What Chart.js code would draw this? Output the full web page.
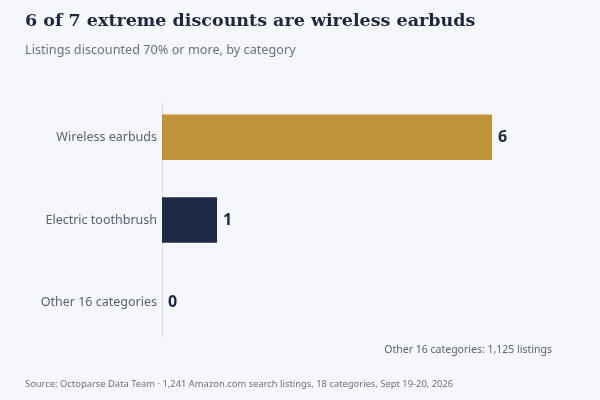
<!DOCTYPE html>
<html>
<head>
<meta charset="utf-8">
<script src="https://cdn.jsdelivr.net/npm/chart.js@4"></script>
<style>
  html, body { margin: 0; padding: 0; background: #f5f7fb; }
  #wrap { position: relative; width: 600px; height: 400px; overflow: hidden; }
  #chart { position: absolute; left: 0; top: 0; }
  .txt { position: absolute; white-space: nowrap; font-family: "Noto Sans", sans-serif; }
  #title { left: 25px; top: 10px; font: bold 17.5px "DejaVu Serif", serif; color: #1e2640; }
  #subtitle { left: 25px; top: 40px; font-size: 12.7px; color: #687083; }
  #note { right: 48px; top: 342px; font-size: 10.5px; color: #5c6270; }
  #source { left: 25px; top: 377px; font-size: 9.4px; color: #6b7180; }
</style>
</head>
<body>
<div id="wrap">
  <canvas id="chart" width="600" height="400"></canvas>
  <div class="txt" id="title">6 of 7 extreme discounts are wireless earbuds</div>
  <div class="txt" id="subtitle">Listings discounted 70% or more, by category</div>
  <div class="txt" id="note">Other 16 categories: 1,125 listings</div>
  <div class="txt" id="source">Source: Octoparse Data Team · 1,241 Amazon.com search listings, 18 categories, Sept 19-20, 2026</div>
</div>
<script>
var categories = ['Wireless earbuds', 'Electric toothbrush', 'Other 16 categories'];
var counts = [6, 1, 0];
var barColors = ['#c0933a', '#1e2946', '#1e2946'];

// thin baseline a little shorter than the plot area, like the original
var baseline = {
    id: 'baseline',
    beforeDatasetsDraw: function (chart) {
        var a = chart.chartArea, ctx = chart.ctx;
        ctx.save();
        ctx.strokeStyle = '#d8dce4';
        ctx.lineWidth = 1;
        ctx.beginPath();
        ctx.moveTo(a.left + 0.5, a.top + 7);
        ctx.lineTo(a.left + 0.5, a.bottom - 7);
        ctx.stroke();
        ctx.restore();
    }
};

// writes the count just past the end of each bar
var valueLabels = {
    id: 'valueLabels',
    afterDatasetsDraw: function (chart) {
        var ctx = chart.ctx;
        var meta = chart.getDatasetMeta(0);
        ctx.save();
        ctx.font = 'bold 16px "Noto Sans"';
        ctx.fillStyle = '#1e2640';
        ctx.textAlign = 'left';
        ctx.textBaseline = 'middle';
        meta.data.forEach(function (bar, i) {
            ctx.fillText(String(counts[i]), bar.x + 6, bar.y);
        });
        ctx.restore();
    }
};

new Chart('chart', {
    type: 'bar',
    data: {
        labels: categories,
        datasets: [{
            data: counts,
            backgroundColor: barColors,
            borderWidth: 0,
            categoryPercentage: 1,
            barPercentage: 0.55
        }]
    },
    options: {
        indexAxis: 'y',
        responsive: false,
        animation: false,
        layout: {
            padding: { left: 0, right: 108, top: 96, bottom: 56 }
        },
        plugins: {
            legend: { display: false },
            tooltip: { enabled: false }
        },
        scales: {
            x: {
                display: false,
                min: 0,
                max: 6
            },
            y: {
                grid: { display: false, drawTicks: false },
                border: { display: false },
                ticks: {
                    color: '#5b6172',
                    font: { family: 'Noto Sans', size: 12.5 },
                    padding: 5
                },
                afterFit: function (scale) { scale.width = 162; }
            }
        }
    },
    plugins: [baseline, valueLabels]
});
</script>
</body>
</html>
